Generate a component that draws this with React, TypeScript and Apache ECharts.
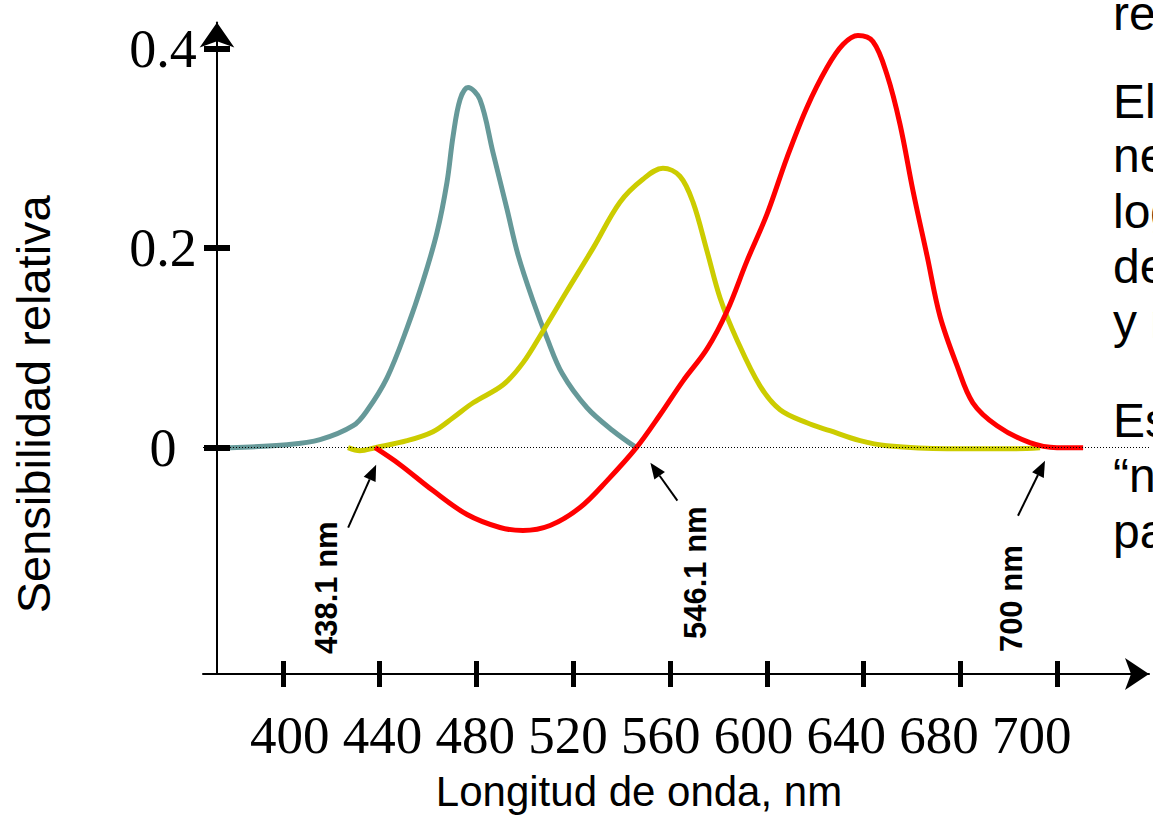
import React, { useEffect, useRef } from "react";
import * as echarts from "echarts";

// Axis tick labels (nm) and y ticks
const xTickLabels = [400, 440, 480, 520, 560, 600, 640, 680, 700];
const yTickValues = [0, 0.2, 0.4];

// Blue curve
const blueWavelength = [378.1, 401.7, 415.3, 429.0, 434.7, 443.0, 451.3, 457.9, 463.7, 467.8, 470.3, 473.2, 476.5, 481.4, 486.8, 492.6, 497.2, 503.4, 509.1, 515.5, 525.7, 536.4, 546.1];
const blueSensitivity = [0, 0.003, 0.008, 0.022, 0.037, 0.07, 0.12, 0.167, 0.216, 0.266, 0.312, 0.349, 0.361, 0.349, 0.296, 0.239, 0.193, 0.147, 0.11, 0.074, 0.04, 0.017, 0];

// Yellow (green primary) curve
const yellowWavelength = [426.9, 431.8, 438.1, 451.3, 462.0, 470.3, 478.6, 491.0, 499.2, 507.5, 517.4, 528.2, 539.3, 548.8, 557.1, 564.1, 569.5, 575.3, 580.7, 587.7, 597.2, 605.5, 616.6, 626.1, 638.6, 649.7, 674.5, 690.9, 696.5];
const yellowSensitivity = [0, -0.003, 0, 0.007, 0.016, 0.03, 0.045, 0.063, 0.085, 0.117, 0.157, 0.2, 0.246, 0.269, 0.28, 0.272, 0.246, 0.197, 0.15, 0.108, 0.062, 0.038, 0.025, 0.017, 0.007, 0.002, -0.001, -0.001, 0];

// Red curve
const redWavelength = [438.1, 448.4, 462.0, 476.1, 489.7, 499.2, 510.4, 522.8, 534.0, 546.1, 555.9, 565.4, 575.3, 583.6, 591.8, 600.1, 608.4, 616.6, 624.9, 631.5, 637.7, 643.9, 649.7, 655.1, 660.5, 666.3, 671.6, 678.7, 682.6, 687.6, 694.4, 700, 705.4];
const redSensitivity = [0, -0.017, -0.043, -0.067, -0.08, -0.083, -0.078, -0.06, -0.033, 0, 0.033, 0.067, 0.099, 0.137, 0.187, 0.234, 0.291, 0.341, 0.381, 0.404, 0.413, 0.407, 0.374, 0.324, 0.257, 0.192, 0.132, 0.082, 0.045, 0.022, 0.005, 0, 0];

// Annotated wavelengths
const markedWavelengths = [438.1, 546.1, 700];
const markedLabels = ["438.1 nm", "546.1 nm", "700 nm"];

// Cut-off paragraph text on the right edge
const sideTextLines = ["re", "El", "ne", "log", "de", "y r", "Es", "\u201Cn", "pa"];

const SANS = "'Liberation Sans', Arial, Helvetica, sans-serif";
const SERIF = "'Liberation Serif', 'Times New Roman', serif";

// the drawn axis places its labelled ticks evenly: map nm to tick slot
function nmToSlot(nm: number): number {
  const t = xTickLabels;
  let i = 0;
  while (i < t.length - 2 && nm > t[i + 1]) i++;
  return i + (nm - t[i]) / (t[i + 1] - t[i]);
}

function toSeries(w: number[], v: number[]) {
  return w.map((x, i) => [nmToSlot(x), v[i]]);
}

function arrowElems(tip: number[], tail: number[]) {
  const dx = tip[0] - tail[0];
  const dy = tip[1] - tail[1];
  const len = Math.hypot(dx, dy);
  const ux = dx / len;
  const uy = dy / len;
  const headLen = 16;
  const half = 6.5;
  const bx = tip[0] - ux * headLen;
  const by = tip[1] - uy * headLen;
  return [
    { type: "line", silent: true, shape: { x1: tail[0], y1: tail[1], x2: bx, y2: by }, style: { stroke: "#000", lineWidth: 2 } },
    {
      type: "polygon",
      silent: true,
      shape: { points: [[tip[0], tip[1]], [bx - uy * half, by + ux * half], [bx + uy * half, by - ux * half]] },
      style: { fill: "#000" },
    },
  ];
}

// offsets of annotation arrows / labels from their anchor points
const annotTip = [[1, 17], [14, 15], [-12, 13]];
const annotTail = [[-27, 80], [41, 53], [-39, 68]];
const annotLabel = [[-49, 140], [59, 125], [-46, 151]];
const sideTextY = [13, 101, 155, 211, 266, 321, 420, 475, 531];

export default function App() {
  const ref = useRef<HTMLDivElement>(null);

  useEffect(() => {
    if (!ref.current) return;
    const chart = echarts.init(ref.current, null, { renderer: "svg" });
    const slotTicks = xTickLabels.map((_, i) => i);
    const xMin = -0.82687;
    const xMax = 8.9509;
    const yMin = -0.2268;
    const yMax = 0.4261;

    const xBase = {
      type: "value",
      min: xMin,
      max: xMax,
      position: "bottom",
      splitLine: { show: false },
      axisLabel: { show: false },
    };
    const yBase = {
      type: "value",
      min: yMin,
      max: yMax,
      position: "left",
      offset: -14,
      splitLine: { show: false },
    };

    chart.setOption({
      animation: false,
      backgroundColor: "#fff",
      grid: { left: 203, right: 4, top: 22.5, bottom: 139, containLabel: false },
      xAxis: [
        {
          ...xBase,
          name: "Longitud de onda, nm",
          nameLocation: "middle",
          nameGap: 96,
          nameTextStyle: { fontSize: 42, fontFamily: SANS, color: "#000", padding: [0, 74, 0, 0] },
          axisLine: { show: true, onZero: false, symbol: ["none", "arrow"], symbolSize: [24, 24], lineStyle: { color: "#000", width: 2 } },
          axisTick: { show: true, customValues: slotTicks, length: 13, inside: false, lineStyle: { color: "#000", width: 5 } },
        },
        {
          ...xBase,
          axisLine: { show: false, onZero: false },
          axisTick: { show: true, customValues: slotTicks, length: 13, inside: true, lineStyle: { color: "#000", width: 5 } },
        },
      ],
      yAxis: [
        {
          ...yBase,
          name: "Sensibilidad relativa",
          nameLocation: "middle",
          nameRotate: 90,
          nameGap: 160,
          nameTextStyle: { fontSize: 47, fontFamily: SANS, color: "#000", padding: [0, 112, 0, 0] },
          axisLine: { show: true, onZero: false, symbol: ["none", "arrow"], symbolSize: [26, 25], lineStyle: { color: "#000", width: 2 } },
          axisTick: { show: true, customValues: yTickValues, length: 13, inside: false, lineStyle: { color: "#000", width: 6 } },
          axisLabel: {
            show: true,
            customValues: yTickValues,
            margin: 54,
            align: "center",
            fontSize: 54,
            fontFamily: SERIF,
            color: "#000",
            formatter: (v: number) => String(Math.round(v * 10) / 10),
          },
        },
        {
          ...yBase,
          axisLine: { show: false, onZero: false },
          axisLabel: { show: false },
          axisTick: { show: true, customValues: yTickValues, length: 13, inside: true, lineStyle: { color: "#000", width: 6 } },
        },
      ],
      series: [
        {
          name: "azul",
          type: "line",
          showSymbol: false,
          smooth: 0.35,
          data: toSeries(blueWavelength, blueSensitivity),
          lineStyle: { color: "#669999", width: 5 },
          itemStyle: { color: "#669999" },
        },
        {
          name: "verde",
          type: "line",
          showSymbol: false,
          smooth: 0.35,
          data: toSeries(yellowWavelength, yellowSensitivity),
          lineStyle: { color: "#CCCC00", width: 5 },
          itemStyle: { color: "#CCCC00" },
        },
        {
          name: "rojo",
          type: "line",
          showSymbol: false,
          smooth: 0.35,
          data: toSeries(redWavelength, redSensitivity),
          lineStyle: { color: "#FF0000", width: 5 },
          itemStyle: { color: "#FF0000" },
          markLine: {
            silent: true,
            symbol: ["none", "none"],
            label: { show: false },
            lineStyle: { color: "#000", width: 1, type: [1, 2] },
            data: [{ yAxis: 0 }],
          },
        },
      ],
    });

    const graphics: any[] = [];
    markedWavelengths.forEach((w, i) => {
      const p = chart.convertToPixel({ xAxisIndex: 0, yAxisIndex: 0 }, [nmToSlot(w), 0]) as number[];
      const tip = [p[0] + annotTip[i][0], p[1] + annotTip[i][1]];
      const tail = [p[0] + annotTail[i][0], p[1] + annotTail[i][1]];
      graphics.push(...arrowElems(tip, tail));
      graphics.push({
        type: "text",
        x: p[0] + annotLabel[i][0],
        y: p[1] + annotLabel[i][1],
        rotation: Math.PI / 2,
        silent: true,
        style: {
          text: markedLabels[i],
          fill: "#000",
          fontSize: 31,
          fontWeight: "bold",
          fontFamily: SANS,
          align: "center",
          verticalAlign: "middle",
        },
      });
    });

    graphics.push({
      type: "text",
      x: 250,
      y: 734.5,
      silent: true,
      style: {
        text: xTickLabels.join(" "),
        fill: "#000",
        fontSize: 53,
        fontFamily: SERIF,
        align: "left",
        verticalAlign: "middle",
      },
    });

    sideTextLines.forEach((t, i) => {
      graphics.push({
        type: "text",
        x: 1113,
        y: sideTextY[i],
        silent: true,
        style: { text: t, fill: "#000", fontSize: 48, fontFamily: SANS, align: "left", verticalAlign: "middle" },
      });
    });

    chart.setOption({ graphic: graphics });

    return () => chart.dispose();
  }, []);

  return (
    <div
      ref={ref}
      style={{ position: "fixed", left: 0, top: 0, width: 1153, height: 817, background: "#fff" }}
    />
  );
}
